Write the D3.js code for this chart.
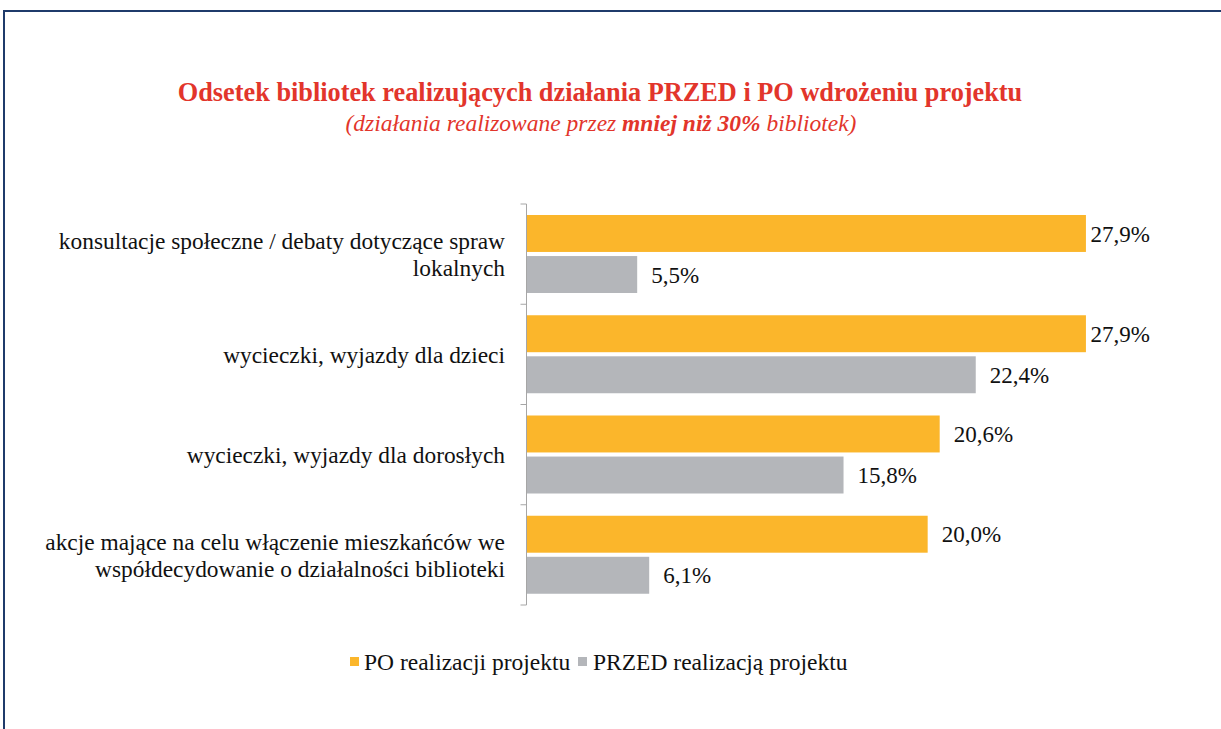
<!DOCTYPE html>
<html><head><meta charset="utf-8">
<script src="https://cdn.jsdelivr.net/npm/d3@7"></script>
<style>body{margin:0;background:#fff}svg{display:block}</style>
</head><body>
<svg id="c" width="1221" height="729"></svg>
<script>
const categories = [
  ["konsultacje społeczne / debaty dotyczące spraw", "lokalnych"],
  ["wycieczki, wyjazdy dla dzieci"],
  ["wycieczki, wyjazdy dla dorosłych"],
  ["akcje mające na celu włączenie mieszkańców we", "współdecydowanie o działalności biblioteki"]
];
const seriesNames = ["PO realizacji projektu", "PRZED realizacją projektu"];
const poValues = [27.9, 27.9, 20.6, 20.0];
const przedValues = [5.5, 22.4, 15.8, 6.1];
const colors = ["#FBB62B", "#B4B6BA"];

const svg = d3.select("#c");
const font = "'Liberation Serif', 'DejaVu Serif', serif";

// border
svg.append("line").attr("x1",3.5).attr("x2",1221).attr("y1",11).attr("y2",11).attr("stroke","#1F3B6B").attr("stroke-width",2);
svg.append("line").attr("x1",4).attr("x2",4).attr("y1",10).attr("y2",729).attr("stroke","#1F3B6B").attr("stroke-width",2);

// title
svg.append("text").attr("x",600).attr("y",101).attr("text-anchor","middle")
  .attr("font-family",font).attr("font-weight","bold").attr("font-size",26.3).attr("fill","#E2352B")
  .text("Odsetek bibliotek realizujących działania PRZED i PO wdrożeniu projektu");
const sub = svg.append("text").attr("x",601).attr("y",131).attr("text-anchor","middle")
  .attr("font-family",font).attr("font-style","italic").attr("font-size",23.5).attr("fill","#E2352B");
sub.append("tspan").text("(działania realizowane przez ");
sub.append("tspan").attr("font-weight","bold").text("mniej niż 30%");
sub.append("tspan").text(" bibliotek)");

const x0 = 527, x = d3.scaleLinear().domain([0,30]).range([x0, x0+601]);
const y = d3.scaleBand().domain(d3.range(categories.length)).range([204, 605]);
const sub2 = d3.scaleBand().domain([0,1]).range([11, 89]).paddingInner(0.1);
const rightLimit = 1150;

const g = svg.append("g");
const data = categories.map((c,i)=>({i, vals:[poValues[i], przedValues[i]]}));
data.forEach(d=>{
  d.vals.forEach((v,s)=>{
    const yy = y(d.i) + sub2(s);
    g.append("rect").attr("x",x(0)).attr("y",yy).attr("width",x(v)-x(0)).attr("height",sub2.bandwidth()).attr("fill",colors[s]);
    const t = g.append("text").attr("x",x(v)+14).attr("y",yy+sub2.bandwidth()/2).attr("dy","0.35em")
      .attr("font-family",font).attr("font-size",23).attr("fill","#111")
      .text(v.toFixed(1).replace(".",",")+"%");
    const w = t.node().getComputedTextLength();
    if (x(v)+14+w > rightLimit) t.attr("x", Math.max(x(v)+3, rightLimit - w));
  });
});

// axis
const axisG = svg.append("g").attr("transform","translate(526.5,0)");
axisG.append("line").attr("x1",0).attr("x2",0).attr("y1",204).attr("y2",605).attr("stroke","#A6A6A6").attr("stroke-width",1);
d3.range(categories.length+1).forEach(k=>{
  const yy = k<categories.length ? y(k) : y.range()[1];
  axisG.append("line").attr("x1",-6).attr("x2",0).attr("y1",yy).attr("y2",yy).attr("stroke","#A6A6A6");
});

// category labels
categories.forEach((lines,i)=>{
  const cy = y(i) + y.bandwidth()/2;
  const t = svg.append("text").attr("text-anchor","end").attr("font-family",font).attr("font-size",23.4).attr("fill","#111");
  const lh = 27;
  lines.forEach((ln,k)=>{
    t.append("tspan").attr("x",505).attr("y",cy + (k-(lines.length-1)/2)*lh).attr("dy","0.35em").text(ln);
  });
});

// legend
const leg = [[350,364],[578,593]];
seriesNames.forEach((n,s)=>{
  svg.append("rect").attr("x",leg[s][0]).attr("y",657).attr("width",9).attr("height",9).attr("fill",colors[s]);
  svg.append("text").attr("x",leg[s][1]).attr("y",662).attr("dy","0.35em").attr("font-family",font).attr("font-size",23.5).attr("fill","#111").text(n);
});
</script>
</body></html>
